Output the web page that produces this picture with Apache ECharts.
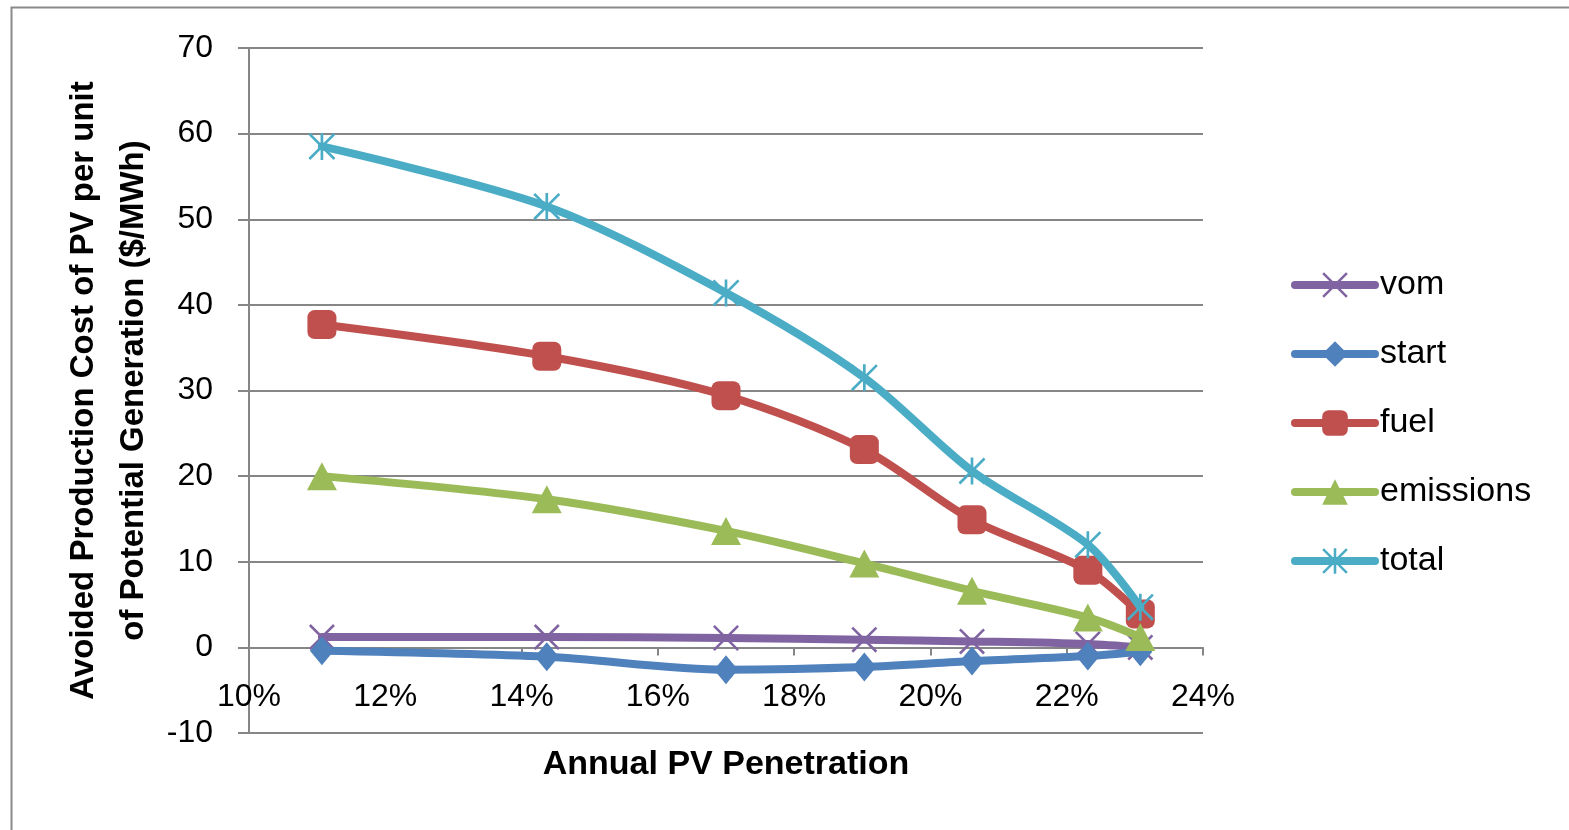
<!DOCTYPE html>
<html>
<head>
<meta charset="utf-8">
<script src="https://cdn.jsdelivr.net/npm/echarts@6/dist/echarts.min.js"></script>
<style>
html,body{margin:0;padding:0;background:#fff;}
#chart{width:1569px;height:830px;}
</style>
</head>
<body>
<div id="chart"></div>
<script>
// Data
const penetration = [0.1107, 0.1437, 0.1700, 0.1903, 0.2061, 0.2231, 0.2308];
const vom       = [1.2, 1.2, 1.1, 0.9, 0.7, 0.4, 0.0];
const start     = [-0.4, -1.1, -2.6, -2.3, -1.6, -1.0, -0.5];
const fuel      = [37.7, 34.0, 29.4, 23.1, 14.9, 9.0, 3.9];
const emissions = [20.0, 17.3, 13.6, 9.8, 6.6, 3.5, 1.2];
const total     = [58.5, 51.5, 41.4, 31.5, 20.6, 12.0, 4.7];
const seriesNames = ['vom', 'start', 'fuel', 'emissions', 'total'];
const xTitle = 'Annual PV Penetration';
const yTitle = 'Avoided Production Cost of PV per unit\nof Potential Generation ($/MWh)';

const FONT = '"Liberation Sans", sans-serif';
const diag = 'M0 1.4 L1.4 0 L20 18.6 L18.6 20 Z M18.6 0 L20 1.4 L1.4 20 L0 18.6 Z';
const xSym = 'path://' + diag;
const starSym = 'path://M9 0 L11 0 L11 20 L9 20 Z ' + diag;

function pairs(vals) { return penetration.map((x, i) => [x, vals[i]]); }

const colors = ['#8064A2', '#4F81BD', '#C0504D', '#9BBB59', '#4BACC6'];
const values = [vom, start, fuel, emissions, total];
const symbols = [xSym, 'diamond', 'roundRect', 'triangle', starSym];
const sizes = [[26, 26], [24, 29], [29, 29], [30, 28], [27, 27]];

const series = seriesNames.map((name, i) => ({
  name: name,
  type: 'line',
  data: pairs(values[i]),
  smooth: 0.3,
  symbol: symbols[i],
  symbolSize: sizes[i],
  showAllSymbol: true,
  lineStyle: { color: colors[i], width: 8, cap: 'round', join: 'round' },
  itemStyle: { color: colors[i] },
  emphasis: { disabled: true },
  z: 2 + i
}));

const chart = echarts.init(document.getElementById('chart'), null, { renderer: 'canvas' });
chart.setOption({
  animation: false,
  backgroundColor: '#fff',
  color: colors,
  grid: { left: 249, right: 366, top: 48, bottom: 97, containLabel: false, outerBoundsMode: 'none' },
  xAxis: {
    type: 'value',
    min: 0.10, max: 0.24, interval: 0.02,
    axisLine: { onZero: true, lineStyle: { color: '#868686', width: 2 } },
    axisTick: { show: true, inside: false, length: 8, lineStyle: { color: '#868686', width: 2 } },
    axisLabel: { color: '#000', fontSize: 32, fontFamily: FONT, margin: -52,
      formatter: v => Math.round(v * 100) + '%' },
    splitLine: { show: false },
    name: xTitle, nameLocation: 'middle', nameGap: 15, nameMoveOverlap: false,
    nameTextStyle: { color: '#000', fontSize: 34, fontWeight: 'bold', fontFamily: FONT }
  },
  yAxis: {
    type: 'value',
    min: -10, max: 70, interval: 10,
    axisLine: { show: true, onZero: false, lineStyle: { color: '#868686', width: 2 } },
    axisTick: { show: true, inside: false, length: 11, lineStyle: { color: '#868686', width: 2 } },
    axisLabel: { color: '#000', fontSize: 32, fontFamily: FONT, margin: 36 },
    splitLine: { show: true, lineStyle: { color: '#868686', width: 2 } },
    name: yTitle, nameLocation: 'middle', nameGap: 90, nameRotate: 90, nameMoveOverlap: false,
    nameTextStyle: { color: '#000', fontSize: 33, fontWeight: 'bold', fontFamily: FONT, lineHeight: 50 }
  },
  legend: {
    orient: 'vertical',
    left: 1286, top: 263,
    itemWidth: 80, itemHeight: 32, itemGap: 35,
    lineStyle: { width: 8, cap: 'round' },
    textStyle: { color: '#000', fontSize: 34, fontFamily: FONT, lineHeight: 30 },
    data: seriesNames,
    selectedMode: false
  },
  graphic: [{
    type: 'rect', left: 9, top: 5, silent: true,
    shape: { width: 1600, height: 900 },
    style: { fill: 'none', stroke: '#8a8a8a', lineWidth: 2 }
  }],
  series: series
});
</script>
</body>
</html>
